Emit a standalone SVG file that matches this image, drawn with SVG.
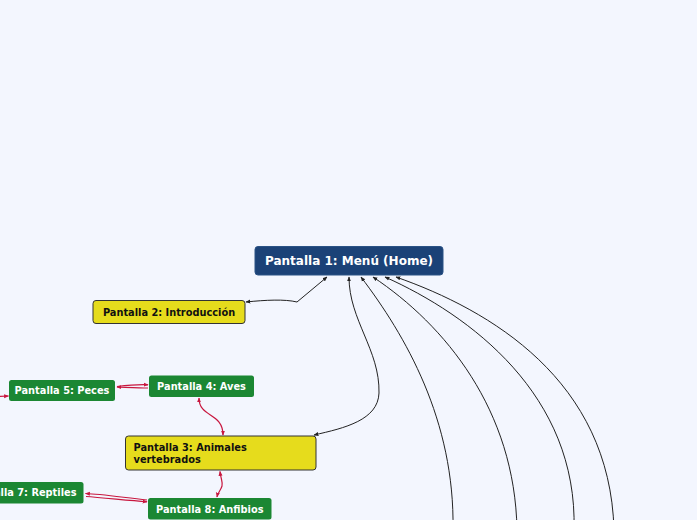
<svg xmlns="http://www.w3.org/2000/svg" width="697" height="520" viewBox="0 0 697 520">
<style>
.bg{fill:#f3f6fe}
.home{fill:#1b4277;stroke:#2a5285;stroke-width:1}
.yel{fill:#e6dc1c;stroke:#333;stroke-width:1}
.grn{fill:#1b8733}
.t{font-family:"DejaVu Sans",Verdana,sans-serif;font-weight:bold}
.tw{fill:#ffffff;font-size:9.8px}
.tb{fill:#111111;font-size:9.8px}
.th{fill:#ffffff;font-size:12px}
.k{fill:none;stroke:#222;stroke-width:1}
.r{fill:none;stroke:#c8173f;stroke-width:1.2}
</style>
<defs>
<marker id="ak" viewBox="0 0 8 8" refX="7" refY="4" markerWidth="5" markerHeight="5" orient="auto-start-reverse" markerUnits="userSpaceOnUse">
<path d="M0,0.8 L8,4 L0,7.2 z" fill="#222"/>
</marker>
<marker id="ar" viewBox="0 0 8 8" refX="7" refY="4" markerWidth="5" markerHeight="5" orient="auto-start-reverse" markerUnits="userSpaceOnUse">
<path d="M0,0.8 L8,4 L0,7.2 z" fill="#c8173f"/>
</marker>
</defs>
<rect class="bg" x="0" y="0" width="697" height="520"/>
<g id="connectors">
<path class="k" d="M327,277 L297,302 C285,299 265,300 246,302" marker-start="url(#ak)" marker-end="url(#ak)"/>
<path class="k" d="M349,277 C349,320 380,350 379,393 C378,420 345,428 314,435" marker-start="url(#ak)" marker-end="url(#ak)"/>
<path class="k" d="M361,277 C405,335 455,420 453,530" marker-start="url(#ak)"/>
<path class="k" d="M373,277 C445,325 515,410 517,530" marker-start="url(#ak)"/>
<path class="k" d="M385,277 C470,315 578,395 574,530" marker-start="url(#ak)"/>
<path class="k" d="M396,277 C490,310 610,380 614,530" marker-start="url(#ak)"/>
<path class="r" d="M199,398 C199,418 223,412 223,435" marker-start="url(#ar)" marker-end="url(#ar)"/>
<path class="r" d="M220,471.5 C221,480 223,482 222,486 C221,490 218,492 217,497" marker-start="url(#ar)" marker-end="url(#ar)"/>
<path class="r" d="M117,386.5 C130,385 140,384.5 148,384.8" marker-end="url(#ar)"/>
<path class="r" d="M148,388 C140,388 130,387.5 117,387" marker-end="url(#ar)"/>
<path class="r" d="M-20,397 L8.5,396" marker-end="url(#ar)"/>
<path class="r" d="M147,500 C120,497 100,494 85.5,493.5" marker-end="url(#ar)"/>
<path class="r" d="M86,496.5 C100,497.5 125,500 147,501.8" marker-end="url(#ar)"/>
</g>
<g id="node-home">
<rect class="home" x="255" y="246.5" width="188" height="28.5" rx="3"/>
<text class="t th" x="349" y="265" text-anchor="middle">Pantalla 1: Menú (Home)</text>
</g>
<g id="node-p2">
<rect class="yel" x="93" y="300.5" width="152" height="23" rx="3"/>
<text class="t tb" x="169" y="315.5" text-anchor="middle">Pantalla 2: Introducción</text>
</g>
<g id="node-p5">
<rect class="grn" x="9" y="380" width="106" height="21" rx="2.5"/>
<text class="t tw" x="62" y="394" text-anchor="middle">Pantalla 5: Peces</text>
</g>
<g id="node-p4">
<rect class="grn" x="149" y="375.5" width="105" height="21.5" rx="2.5"/>
<text class="t tw" x="201.5" y="389.5" text-anchor="middle">Pantalla 4: Aves</text>
</g>
<g id="node-p3">
<rect class="yel" x="125.5" y="436" width="190.5" height="34" rx="3"/>
<text class="t tb" x="133.5" y="451">Pantalla 3: Animales</text>
<text class="t tb" x="133.5" y="462.5">vertebrados</text>
</g>
<g id="node-p8">
<rect class="grn" x="148" y="498" width="123.5" height="21.5" rx="2.5"/>
<text class="t tw" x="209.8" y="512.5" text-anchor="middle">Pantalla 8: Anfibios</text>
</g>
<g id="node-p7">
<rect class="grn" x="-35" y="482" width="118.5" height="21.5" rx="2.5"/>
<text class="t tw" x="76.5" y="496" text-anchor="end">Pantalla 7: Reptiles</text>
</g>
</svg>
